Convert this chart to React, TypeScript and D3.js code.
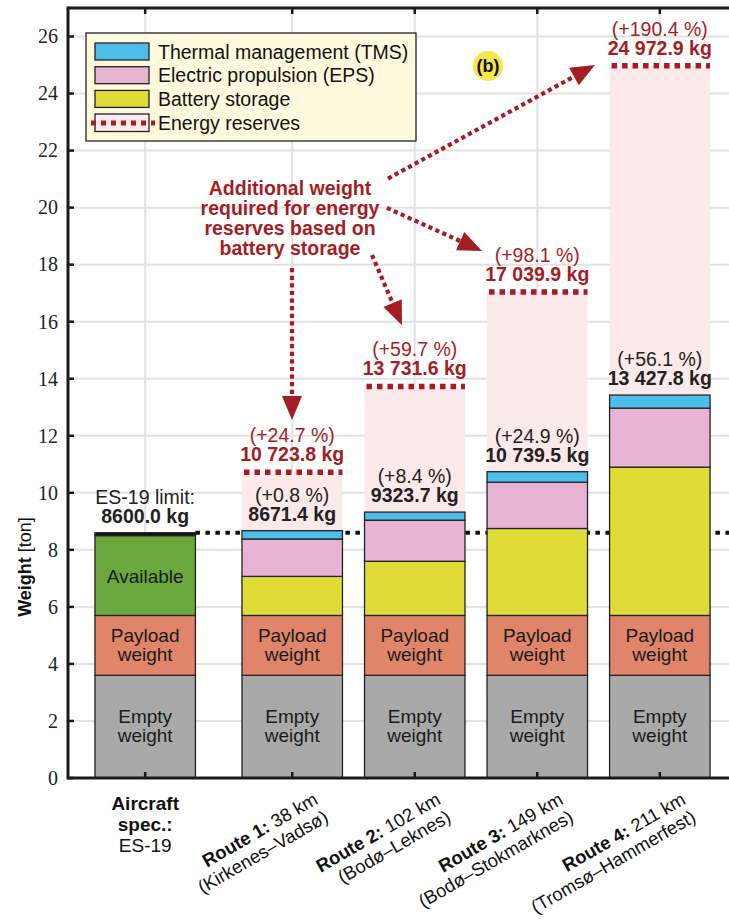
import React from 'react';
import * as d3 from 'd3';

// ---------- data ----------
const categories = ['ES-19', 'Route 1', 'Route 2', 'Route 3', 'Route 4'];
const categoryPos = [1, 2.2, 3.2, 4.2, 5.2];
const emptyWeight = [3.6, 3.6, 3.6, 3.6, 3.6];
const payloadWeight = [2.1, 2.1, 2.1, 2.1, 2.1];
const availableWeight = [2.8, 0, 0, 0, 0];
const limitBand = [0.1, 0, 0, 0, 0];
const batteryWeight = [0, 1.37, 1.9, 3.05, 5.2];
const epsWeight = [0, 1.31, 1.44, 1.62, 2.07];
const tmsWeight = [0, 0.2914, 0.2837, 0.3695, 0.4578];
const totalKg = [8600.0, 8671.4, 9323.7, 10739.5, 13427.8];
const totalPct = ['', '+0.8', '+8.4', '+24.9', '+56.1'];
const reserveKg = [0, 10723.8, 13731.6, 17039.9, 24972.9];
const reservePct = ['', '+24.7', '+59.7', '+98.1', '+190.4'];
const es19Limit = 8.6;
const yTicks = [0, 2, 4, 6, 8, 10, 12, 14, 16, 18, 20, 22, 24, 26];
const routeBold = ['Route 1:', 'Route 2:', 'Route 3:', 'Route 4:'];
const routeKm = [' 38 km', ' 102 km', ' 149 km', ' 211 km'];
const routePlace = ['(Kirkenes–Vadsø)', '(Bodø–Leknes)', '(Bodø–Stokmarknes)', '(Tromsø–Hammerfest)'];
const legendLabels = ['Thermal management (TMS)', 'Electric propulsion (EPS)', 'Battery storage', 'Energy reserves'];
const annotationLines = ['Additional weight', 'required for energy', 'reserves based on', 'battery storage'];
// annotation arrows in data coordinates [x, y]
const arrowFrom = [[2.198, 17.88], [2.851, 18.34], [2.973, 19.99], [2.982, 21.02]];
const arrowTo = [[2.198, 12.55], [3.096, 15.88], [3.749, 18.48], [4.671, 25.0]];
const annotationAnchor = [2.182, 20.44];

// ---------- styles ----------
const COLORS: Record<string, string> = {
  empty: '#a9a9a9',
  payload: '#e0856a',
  available: '#6aa83d',
  band: '#111111',
  battery: '#dfdc38',
  eps: '#e8b4d3',
  tms: '#4dbde9',
};
const RED = '#a51d24';
const PINK_BG = '#fce9ea';
const SANS = '"Liberation Sans", Arial, Helvetica, sans-serif';
const SERIF = '"Liberation Serif", "Times New Roman", serif';

const fmtKg = (v: number) => {
  const s = v.toFixed(1);
  const [intPart, dec] = s.split('.');
  const withSpace = intPart.length > 4 ? intPart.slice(0, intPart.length - 3) + ' ' + intPart.slice(-3) : intPart;
  return `${withSpace}.${dec} kg`;
};

export default function App() {
  const W = 729, H = 920;
  const plotL = 68, plotT = 8, plotB = 778, plotR = 737;
  const x = d3.scaleLinear().domain([0.37, 5.83]).range([plotL, plotR]);
  const y = d3.scaleLinear().domain([0, 27]).range([plotB, plotT]);
  const barW = x(0.82) - x(0);

  const keys = ['empty', 'payload', 'available', 'band', 'battery', 'eps', 'tms'];
  const rows = categories.map((c, i) => ({
    empty: emptyWeight[i], payload: payloadWeight[i], available: availableWeight[i], band: limitBand[i],
    battery: batteryWeight[i], eps: epsWeight[i], tms: tmsWeight[i],
  }));
  const stack = d3.stack<any>().keys(keys)(rows);
  const tops = rows.map((r) => keys.reduce((s, k) => s + (r as any)[k], 0));

  const arrowEls = arrowFrom.map((f, i) => {
    const x0 = x(f[0]), y0 = y(f[1]);
    const x1 = x(arrowTo[i][0]), y1 = y(arrowTo[i][1]);
    const dx = x1 - x0, dy = y1 - y0;
    const len = Math.hypot(dx, dy);
    const ux = dx / len, uy = dy / len;
    const headL = 24, headW = 10;
    const bx = x1 - ux * headL, by = y1 - uy * headL;
    const px = -uy, py = ux;
    const tri = `${x1},${y1} ${bx + px * headW},${by + py * headW} ${bx - px * headW},${by - py * headW}`;
    return (
      <g key={'arr' + i}>
        <line x1={x0} y1={y0} x2={bx + ux * 2} y2={by + uy * 2} stroke={RED} strokeWidth={4.2} strokeDasharray="4.2 3.4" />
        <polygon points={tri} fill={RED} />
      </g>
    );
  });

  return (
    <svg width={W} height={H} style={{ position: 'absolute', left: 0, top: 0, background: '#fff' }} fontFamily={SANS}>
      <rect x={0} y={0} width={W} height={H} fill="#fff" />
      {/* grid */}
      {yTicks.filter((t) => t > 0).map((t) => (
        <line key={'gy' + t} x1={plotL} x2={plotR} y1={y(t)} y2={y(t)} stroke="#e2e2e2" strokeWidth={2} />
      ))}
      {categoryPos.map((p, i) => (
        <line key={'gx' + i} x1={x(p)} x2={x(p)} y1={plotT} y2={plotB} stroke="#e2e2e2" strokeWidth={2} />
      ))}
      {/* reserve backgrounds */}
      {categoryPos.map((p, i) => i === 0 ? null : (
        <rect key={'pk' + i} x={x(p) - barW / 2} width={barW} y={y(reserveKg[i] / 1000)} height={y(tops[i]) - y(reserveKg[i] / 1000)} fill={PINK_BG} />
      ))}
      {/* limit line */}
      <line x1={x(categoryPos[0]) + barW / 2} x2={plotR} y1={y(es19Limit)} y2={y(es19Limit)} stroke="#111" strokeWidth={4} strokeDasharray="4.5 5.5" />
      {/* bars */}
      {stack.map((s) => (
        <g key={s.key}>
          {s.map((d, i) => (d[1] - d[0] > 0 ? (
            <rect key={i} x={x(categoryPos[i]) - barW / 2} width={barW} y={y(d[1])} height={y(d[0]) - y(d[1])}
              fill={COLORS[s.key]} stroke="#222" strokeWidth={1.3} />
          ) : null))}
        </g>
      ))}
      {/* inside labels */}
      {categoryPos.map((p, i) => {
        const cx = x(p);
        const ce = (y(0) + y(emptyWeight[i])) / 2;
        const cp = (y(emptyWeight[i]) + y(emptyWeight[i] + payloadWeight[i])) / 2;
        return (
          <g key={'il' + i} fontSize={19} textAnchor="middle" fill="#1a1a1a">
            <text x={cx} y={ce - 4}>Empty</text>
            <text x={cx} y={ce + 15}>weight</text>
            <text x={cx} y={cp - 3}>Payload</text>
            <text x={cx} y={cp + 16}>weight</text>
          </g>
        );
      })}
      <text x={x(categoryPos[0])} y={(y(emptyWeight[0] + payloadWeight[0]) + y(emptyWeight[0] + payloadWeight[0] + availableWeight[0])) / 2 + 7}
        fontSize={19} textAnchor="middle" fill="#1a1a1a">Available</text>
      {/* reserve dotted lines */}
      {categoryPos.map((p, i) => i === 0 ? null : (
        <line key={'rl' + i} x1={x(p) - barW / 2 + 2} x2={x(p) + barW / 2} y1={y(reserveKg[i] / 1000)} y2={y(reserveKg[i] / 1000)}
          stroke={RED} strokeWidth={5.5} strokeDasharray="5.5 5" />
      ))}
      {/* total labels */}
      {categoryPos.map((p, i) => {
        const top = y(totalKg[i] / 1000);
        return (
          <g key={'tl' + i} textAnchor="middle" fontSize={19.5} fill="#222">
            <text x={x(p)} y={top - 29}>{i === 0 ? 'ES-19 limit:' : `(${totalPct[i]} %)`}</text>
            <text x={x(p)} y={top - 10} fontWeight="bold">{fmtKg(totalKg[i])}</text>
          </g>
        );
      })}
      {/* reserve labels */}
      {categoryPos.map((p, i) => {
        if (i === 0) return null;
        const top = y(reserveKg[i] / 1000);
        return (
          <g key={'rlb' + i} textAnchor="middle" fontSize={19.5} fill={RED}>
            <text x={x(p)} y={top - 30}>{`(${reservePct[i]} %)`}</text>
            <text x={x(p)} y={top - 11} fontWeight="bold">{fmtKg(reserveKg[i])}</text>
          </g>
        );
      })}
      {/* annotation */}
      {arrowEls}
      <g textAnchor="middle" fontWeight="bold" fontSize={19.5} fill={RED}>
        {annotationLines.map((l, i) => (
          <text key={'an' + i} x={x(annotationAnchor[0])} y={y(annotationAnchor[1]) + i * 20}>{l}</text>
        ))}
      </g>
      {/* axes */}
      <line x1={plotL} x2={plotL} y1={plotT - 1.5} y2={plotB + 1.5} stroke="#1a1a1a" strokeWidth={3} />
      <line x1={plotL} x2={plotR} y1={plotB} y2={plotB} stroke="#1a1a1a" strokeWidth={3} />
      <line x1={plotL} x2={plotR} y1={plotT} y2={plotT} stroke="#1a1a1a" strokeWidth={3} />
      {yTicks.map((t) => (
        <g key={'yt' + t}>
          <line x1={plotL} x2={plotL + 6} y1={y(t)} y2={y(t)} stroke="#1a1a1a" strokeWidth={2.5} />
          <text x={58} y={y(t)} dy="0.34em" textAnchor="end" fontFamily={SERIF} fontSize={20} fill="#222">{t}</text>
        </g>
      ))}
      {categoryPos.map((p, i) => (
        <g key={'xt' + i}>
          <line x1={x(p)} x2={x(p)} y1={plotB} y2={plotB - 6} stroke="#1a1a1a" strokeWidth={2.5} />
          <line x1={x(p)} x2={x(p)} y1={plotT} y2={plotT + 6} stroke="#1a1a1a" strokeWidth={2.5} />
        </g>
      ))}
      {/* y title */}
      <text transform="translate(25,567) rotate(-90)" textAnchor="middle" dy="0.35em" fontSize={18} fill="#111">
        <tspan fontWeight="bold">Weight</tspan> [ton]
      </text>
      {/* x labels */}
      <g textAnchor="middle" fontSize={19} fill="#111">
        <text x={x(categoryPos[0])} y={810} fontWeight="bold">Aircraft</text>
        <text x={x(categoryPos[0])} y={831} fontWeight="bold">spec.:</text>
        <text x={x(categoryPos[0])} y={852}>{categories[0]}</text>
      </g>
      {routeBold.map((rb, j) => {
        const i = j + 1;
        const ax = x(categoryPos[i]) + 27;
        return (
          <g key={'rx' + j} transform={`translate(${ax},803) rotate(-30)`} textAnchor="end" fontSize={18.5} fill="#111">
            <text x={0} y={0}><tspan fontWeight="bold">{rb}</tspan>{routeKm[j]}</text>
            <text x={0} y={20.5}>{routePlace[j]}</text>
          </g>
        );
      })}
      {/* legend */}
      <g>
        <rect x={86} y={33} width={330} height={108} fill="#fffadd" stroke="#222" strokeWidth={1.3} />
        {['tms', 'eps', 'battery'].map((k, i) => (
          <rect key={'lg' + k} x={95} y={43 + i * 23.7} width={54} height={17} fill={COLORS[k]} stroke="#222" strokeWidth={1.3} />
        ))}
        <rect x={95} y={114} width={54} height={17.5} fill={PINK_BG} stroke="#222" strokeWidth={1.3} />
        <line x1={91} x2={155} y1={123} y2={123} stroke={RED} strokeWidth={5} strokeDasharray="5 5" />
        {legendLabels.map((l, i) => (
          <text key={'lt' + i} x={158} y={58.5 + i * 23.7} fontSize={19.5} fill="#111">{l}</text>
        ))}
      </g>
      {/* panel tag */}
      <circle cx={488} cy={66} r={15} fill="#f6e84c" />
      <text x={488} y={66} dy="0.35em" textAnchor="middle" fontWeight="bold" fontSize={18} fill="#111">(b)</text>
    </svg>
  );
}
